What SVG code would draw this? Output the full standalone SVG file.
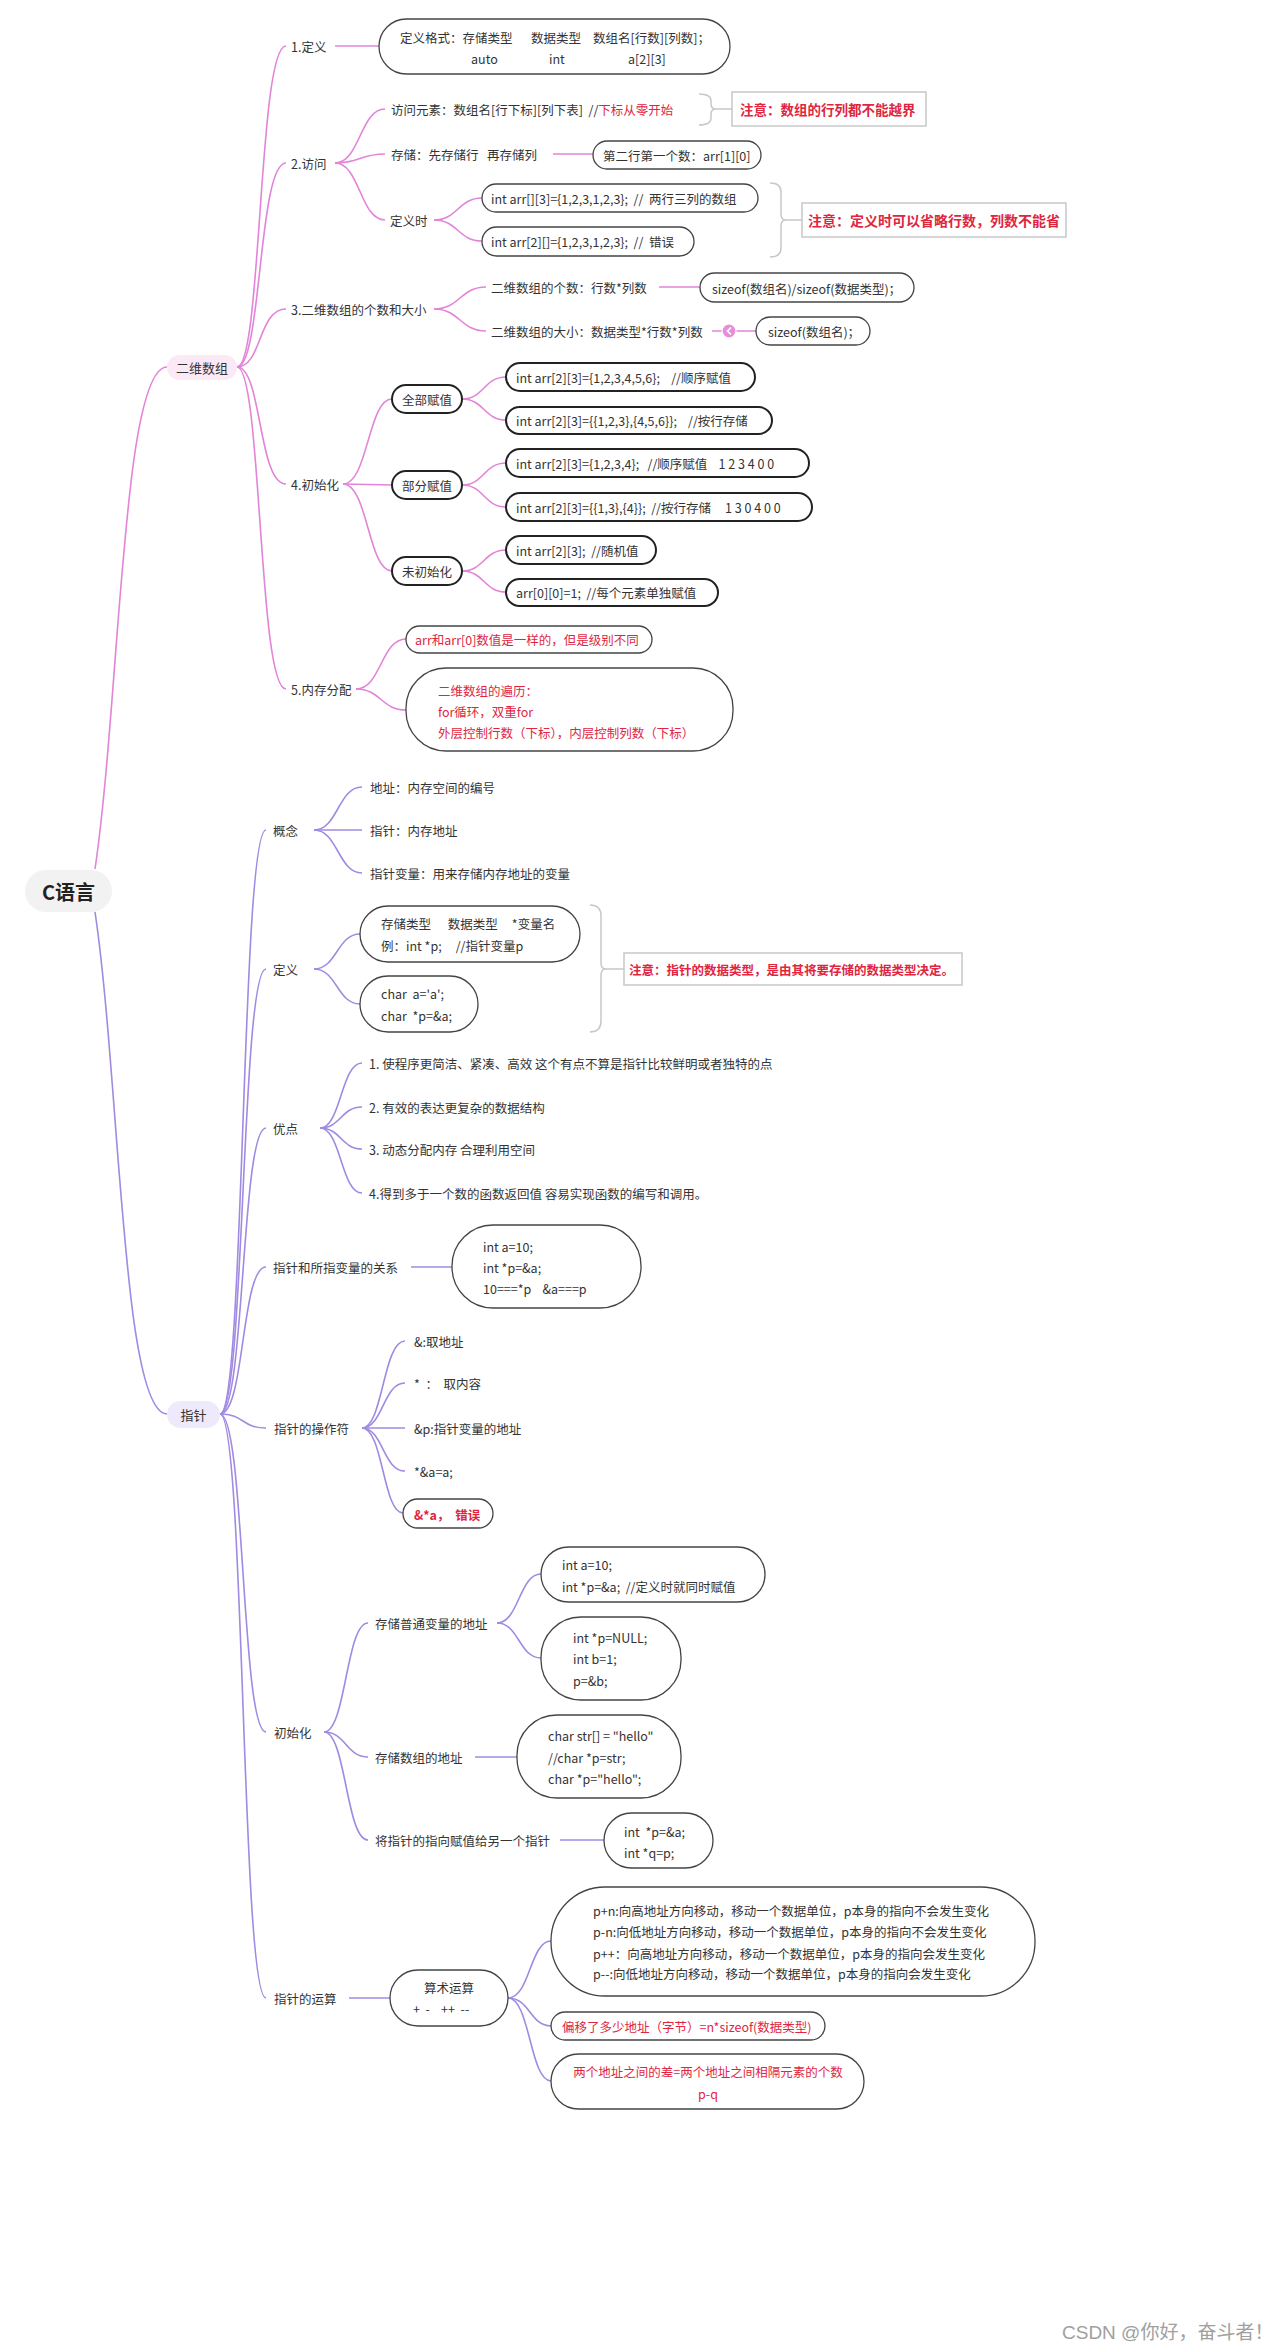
<svg xmlns="http://www.w3.org/2000/svg" width="1280" height="2351" viewBox="0 0 1280 2351" xml:space="preserve">
<style>
text{font-family:"Noto Sans CJK SC","Noto Sans",sans-serif;font-size:12.5px;fill:#333;dominant-baseline:central;white-space:pre}
.red{fill:#e0263f}
.b{font-weight:bold}
.box{fill:#fff;stroke:#444;stroke-width:1.3}
.box2{fill:#fff;stroke:#222;stroke-width:2}
.note{fill:#fff;stroke:#c8c8c8;stroke-width:1.5}
.pk{fill:none;stroke:#e284d8;stroke-width:1.6}
.pu{fill:none;stroke:#a08ae2;stroke-width:1.6}
.br{fill:none;stroke:#c8c8c8;stroke-width:1.5}
</style>
<rect width="1280" height="2351" fill="#fff"/>
<g id="connectors">
<path class="pk" d="M95 869 C120 700 122 367 167 367"/>
<path class="pk" d="M237 367 C262 367 258 46 286 46"/>
<path class="pk" d="M237 367 C262 367 258 163 286 163"/>
<path class="pk" d="M237 367 C262 367 258 309 286 309"/>
<path class="pk" d="M237 367 C262 367 258 484 286 484"/>
<path class="pk" d="M237 367 C262 367 258 689 286 689"/>
<path class="pk" d="M335 46 L379 46"/>
<path class="pk" d="M335 163 C360 163 360 109 385 109"/>
<path class="pk" d="M335 163 C360 163 360 154 385 154"/>
<path class="pk" d="M335 163 C360 163 360 220 385 220"/>
<path class="pk" d="M553 154 L593 154"/>
<path class="pk" d="M434 220 C458 220 458 198 482 198"/>
<path class="pk" d="M434 220 C458 220 458 241 482 241"/>
<path class="pk" d="M434 309 C460 309 460 287 486 287"/>
<path class="pk" d="M434 309 C460 309 460 331 486 331"/>
<path class="pk" d="M659 287 L700 287"/>
<path class="pk" d="M712 331 L756 331"/>
<path class="pk" d="M343 484 C368 484 368 399 392 399"/>
<path class="pk" d="M343 484 L392 485"/>
<path class="pk" d="M343 484 C368 484 368 571 392 571"/>
<path class="pk" d="M462 399 C484 399 484 377 506 377"/>
<path class="pk" d="M462 399 C484 399 484 420 506 420"/>
<path class="pk" d="M462 485 C484 485 484 463 506 463"/>
<path class="pk" d="M462 485 C484 485 484 507 506 507"/>
<path class="pk" d="M462 571 C484 571 484 550 506 550"/>
<path class="pk" d="M462 571 C484 571 484 592 506 592"/>
<path class="pk" d="M356 689 C381 689 381 639 406 639"/>
<path class="pk" d="M356 689 C381 689 381 710 406 710"/>
<path class="br" d="M699 94 Q711 94 711 101 L711 104 Q711 109 716 109 Q711 109 711 114 L711 118 Q711 125 699 125 M716 109 L732 109"/>
<path class="br" d="M770 183 Q781 183 781 192 L781 214 Q781 220 786 220 Q781 220 781 226 L781 248 Q781 257 770 257 M786 220 L802 220"/>
<path class="br" d="M590 905 Q601 905 601 916 L601 963 Q601 969 606 969 Q601 969 601 975 L601 1021 Q601 1032 590 1032 M606 969 L624 969"/>
<path class="pu" d="M95 912 C120 1080 122 1414 167 1414"/>
<path class="pu" d="M220 1414 C245 1414 241 830 266 830"/>
<path class="pu" d="M220 1414 C245 1414 241 969 266 969"/>
<path class="pu" d="M220 1414 C245 1414 241 1128 266 1128"/>
<path class="pu" d="M220 1414 C245 1414 241 1267 266 1267"/>
<path class="pu" d="M220 1414 C245 1414 241 1428 266 1428"/>
<path class="pu" d="M220 1414 C245 1414 241 1732 266 1732"/>
<path class="pu" d="M220 1414 C245 1414 241 1998 266 1998"/>
<path class="pu" d="M314 830 C338 830 338 787 362 787"/>
<path class="pu" d="M314 830 L362 830"/>
<path class="pu" d="M314 830 C338 830 338 873 362 873"/>
<path class="pu" d="M314 969 C337 969 337 934 360 934"/>
<path class="pu" d="M314 969 C337 969 337 1004 360 1004"/>
<path class="pu" d="M320 1128 C341 1128 341 1063 362 1063"/>
<path class="pu" d="M320 1128 C341 1128 341 1107 362 1107"/>
<path class="pu" d="M320 1128 C341 1128 341 1149 362 1149"/>
<path class="pu" d="M320 1128 C341 1128 341 1193 362 1193"/>
<path class="pu" d="M411 1267 L452 1267"/>
<path class="pu" d="M362 1428 C383 1428 383 1341 405 1341"/>
<path class="pu" d="M362 1428 C383 1428 383 1383 405 1383"/>
<path class="pu" d="M362 1428 L405 1428"/>
<path class="pu" d="M362 1428 C383 1428 383 1471 405 1471"/>
<path class="pu" d="M362 1428 C383 1428 383 1513 403 1513"/>
<path class="pu" d="M324 1732 C346 1732 346 1623 368 1623"/>
<path class="pu" d="M324 1732 C346 1732 346 1757 368 1757"/>
<path class="pu" d="M324 1732 C346 1732 346 1840 368 1840"/>
<path class="pu" d="M497 1623 C519 1623 519 1574 541 1574"/>
<path class="pu" d="M497 1623 C519 1623 519 1658 541 1658"/>
<path class="pu" d="M475 1757 L517 1757"/>
<path class="pu" d="M560 1840 L604 1840"/>
<path class="pu" d="M349 1998 L390 1998"/>
<path class="pu" d="M508 1998 C530 1998 530 1941 551 1941"/>
<path class="pu" d="M508 1998 C530 1998 530 2026 551 2026"/>
<path class="pu" d="M508 1998 C530 1998 530 2081 551 2081"/>
</g>
<g id="root"><rect x="25" y="870" width="87" height="42" rx="21" fill="#f2f2f2"/><text x="68.5" y="891" text-anchor="middle" style="font-size:20px;font-weight:bold;fill:#222">C语言</text></g>
<g id="erwei"><rect x="167" y="355" width="70" height="25" rx="12.5" fill="#fbe9f6"/><text x="202" y="367.5" text-anchor="middle" style="font-size:13px">二维数组</text></g>
<g id="n1"><text x="291" y="46">1.定义</text></g>
<g id="n1a"><rect class="box" x="379" y="19" width="351" height="55" rx="27.5"/><text x="400" y="37">定义格式：存储类型</text><text x="531" y="37">数据类型</text><text x="593" y="37">数组名[行数][列数]；</text><text x="471" y="58">auto</text><text x="549" y="58">int</text><text x="628" y="58">a[2][3]</text></g>
<g id="n2"><text x="291" y="163">2.访问</text></g>
<g id="n2a"><text x="391" y="109">访问元素：数组名[行下标][列下表]  //<tspan class="red">下标从零开始</tspan></text></g>
<g id="note1"><rect class="note" x="732" y="92" width="194" height="34"/><text x="740" y="109" class="red b" style="font-size:13.5px">注意：数组的行列都不能越界</text></g>
<g id="n2b"><text x="391" y="154">存储：先存储行   再存储列</text></g>
<g id="n2b1"><rect class="box" x="593" y="141" width="168" height="28" rx="14"/><text x="603" y="155">第二行第一个数：arr[1][0]</text></g>
<g id="n2c"><text x="390" y="220">定义时</text></g>
<g id="n2c1"><rect class="box" x="482" y="184" width="276" height="28" rx="14"/><text x="491" y="198">int arr[][3]={1,2,3,1,2,3};  //  两行三列的数组</text></g>
<g id="n2c2"><rect class="box" x="482" y="227" width="212" height="29" rx="14.5"/><text x="491" y="241">int arr[2][]={1,2,3,1,2,3};  //  错误</text></g>
<g id="note2"><rect class="note" x="802" y="203" width="264" height="34"/><text x="808" y="220" class="red b" style="font-size:14px">注意：定义时可以省略行数，列数不能省</text></g>
<g id="n3"><text x="291" y="309">3.二维数组的个数和大小</text></g>
<g id="n3a"><text x="491" y="287">二维数组的个数：行数*列数</text></g>
<g id="n3a1"><rect class="box" x="700" y="273" width="214" height="29" rx="14.5"/><text x="712" y="288">sizeof(数组名)/sizeof(数据类型)；</text></g>
<g id="n3b"><text x="491" y="331">二维数组的大小：数据类型*行数*列数</text><circle cx="729" cy="331" r="7" fill="#e58fdb" stroke="#fff" stroke-width="1.2"/><path d="M731 327.5 L727.5 331 L731 334.5" fill="none" stroke="#fff" stroke-width="1.6"/></g>
<g id="n3b1"><rect class="box" x="756" y="317" width="114" height="28" rx="14"/><text x="768" y="331">sizeof(数组名)；</text></g>
<g id="n4"><text x="291" y="484">4.初始化</text></g>
<g id="n4a"><rect class="box2" x="392" y="385" width="70" height="28" rx="14"/><text x="427" y="399" text-anchor="middle">全部赋值</text></g>
<g id="n4a1"><rect class="box2" x="506" y="363" width="249" height="28" rx="14"/><text x="516" y="377">int arr[2][3]={1,2,3,4,5,6};    //顺序赋值</text></g>
<g id="n4a2"><rect class="box2" x="506" y="407" width="266" height="27" rx="13.5"/><text x="516" y="420">int arr[2][3]={{1,2,3},{4,5,6}};    //按行存储</text></g>
<g id="n4b"><rect class="box2" x="392" y="471" width="70" height="28" rx="14"/><text x="427" y="485" text-anchor="middle">部分赋值</text></g>
<g id="n4b1"><rect class="box2" x="506" y="449" width="303" height="28" rx="14"/><text x="516" y="463">int arr[2][3]={1,2,3,4};   //顺序赋值    1 2 3 4 0 0</text></g>
<g id="n4b2"><rect class="box2" x="506" y="493" width="306" height="28" rx="14"/><text x="516" y="507">int arr[2][3]={{1,3},{4}};  //按行存储     1 3 0 4 0 0</text></g>
<g id="n4c"><rect class="box2" x="392" y="557" width="70" height="28" rx="14"/><text x="427" y="571" text-anchor="middle">未初始化</text></g>
<g id="n4c1"><rect class="box2" x="506" y="536" width="150" height="28" rx="14"/><text x="516" y="550">int arr[2][3];  //随机值</text></g>
<g id="n4c2"><rect class="box2" x="506" y="579" width="212" height="27" rx="13.5"/><text x="516" y="592">arr[0][0]=1;  //每个元素单独赋值</text></g>
<g id="n5"><text x="291" y="689">5.内存分配</text></g>
<g id="n5a"><rect class="box" x="406" y="626" width="246" height="27" rx="13.5"/><text x="415" y="639" class="red">arr和arr[0]数值是一样的，但是级别不同</text></g>
<g id="n5b"><rect class="box" x="406" y="668" width="327" height="83" rx="40"/><text x="438" y="690" class="red">二维数组的遍历：</text><text x="438" y="711" class="red">for循环，双重for</text><text x="438" y="732" class="red">外层控制行数（下标），内层控制列数（下标）</text></g>
<g id="zhizhen"><rect x="167" y="1401" width="53" height="27" rx="13.5" fill="#eee9fb"/><text x="193.5" y="1414.5" text-anchor="middle" style="font-size:13px">指针</text></g>
<g id="p1"><text x="273" y="830">概念</text></g>
<g id="p1a"><text x="370" y="787">地址：内存空间的编号</text></g>
<g id="p1b"><text x="370" y="830">指针：内存地址</text></g>
<g id="p1c"><text x="370" y="873">指针变量：用来存储内存地址的变量</text></g>
<g id="p2"><text x="273" y="969">定义</text></g>
<g id="p2a"><rect class="box" x="360" y="906" width="220" height="56" rx="28"/><text x="381" y="923">存储类型      数据类型     *变量名</text><text x="381" y="945">例：int *p;     //指针变量p</text></g>
<g id="p2b"><rect class="box" x="360" y="976" width="118" height="56" rx="28"/><text x="381" y="993">char  a='a';</text><text x="381" y="1015">char  *p=&amp;a;</text></g>
<g id="note3"><rect class="note" x="624" y="953" width="338" height="32"/><text x="629" y="969" class="red b">注意：指针的数据类型，是由其将要存储的数据类型决定。</text></g>
<g id="p3"><text x="273" y="1128">优点</text></g>
<g id="p3a"><text x="369" y="1063">1. 使程序更简洁、紧凑、高效 这个有点不算是指针比较鲜明或者独特的点</text></g>
<g id="p3b"><text x="369" y="1107">2. 有效的表达更复杂的数据结构</text></g>
<g id="p3c"><text x="369" y="1149">3. 动态分配内存 合理利用空间</text></g>
<g id="p3d"><text x="369" y="1193">4.得到多于一个数的函数返回值 容易实现函数的编写和调用。</text></g>
<g id="p4"><text x="273" y="1267">指针和所指变量的关系</text></g>
<g id="p4a"><rect class="box" x="452" y="1225" width="189" height="83" rx="41"/><text x="483" y="1246">int a=10;</text><text x="483" y="1267">int *p=&amp;a;</text><text x="483" y="1288">10===*p    &amp;a===p</text></g>
<g id="p5"><text x="274" y="1428">指针的操作符</text></g>
<g id="p5a"><text x="414" y="1341">&amp;:取地址</text></g>
<g id="p5b"><text x="414" y="1383">*  ：  取内容</text></g>
<g id="p5c"><text x="414" y="1428">&amp;p:指针变量的地址</text></g>
<g id="p5d"><text x="414" y="1471">*&amp;a=a;</text></g>
<g id="p5e"><rect class="box" x="403" y="1499" width="90" height="29" rx="14.5"/><text x="414" y="1514" class="red b">&amp;*a，  错误</text></g>
<g id="p6"><text x="274" y="1732">初始化</text></g>
<g id="p6a"><text x="375" y="1623">存储普通变量的地址</text></g>
<g id="p6a1"><rect class="box" x="541" y="1547" width="224" height="55" rx="27.5"/><text x="562" y="1564">int a=10;</text><text x="562" y="1586">int *p=&amp;a;  //定义时就同时赋值</text></g>
<g id="p6a2"><rect class="box" x="541" y="1617" width="140" height="83" rx="40"/><text x="573" y="1637">int *p=NULL;</text><text x="573" y="1658">int b=1;</text><text x="573" y="1680">p=&amp;b;</text></g>
<g id="p6b"><text x="375" y="1757">存储数组的地址</text></g>
<g id="p6b1"><rect class="box" x="517" y="1715" width="164" height="83" rx="40"/><text x="548" y="1735">char str[] = "hello"</text><text x="548" y="1757">//char *p=str;</text><text x="548" y="1778">char *p="hello";</text></g>
<g id="p6c"><text x="375" y="1840">将指针的指向赋值给另一个指针</text></g>
<g id="p6c1"><rect class="box" x="604" y="1813" width="109" height="55" rx="27.5"/><text x="624" y="1831">int  *p=&amp;a;</text><text x="624" y="1852">int *q=p;</text></g>
<g id="p7"><text x="274" y="1998">指针的运算</text></g>
<g id="p7a"><rect class="box" x="390" y="1970" width="118" height="56" rx="28"/><text x="449" y="1987" text-anchor="middle">算术运算</text><text x="413" y="2008">+  -    ++  --</text></g>
<g id="p7a1"><rect class="box" x="551" y="1887" width="484" height="109" rx="54"/><text x="593" y="1910">p+n:向高地址方向移动，移动一个数据单位，p本身的指向不会发生变化</text><text x="593" y="1931">p-n:向低地址方向移动，移动一个数据单位，p本身的指向不会发生变化</text><text x="593" y="1953">p++：向高地址方向移动，移动一个数据单位，p本身的指向会发生变化</text><text x="593" y="1973">p--:向低地址方向移动，移动一个数据单位，p本身的指向会发生变化</text></g>
<g id="p7a2"><rect class="box" x="551" y="2012" width="274" height="28" rx="14"/><text x="562" y="2026" class="red">偏移了多少地址（字节）=n*sizeof(数据类型)</text></g>
<g id="p7a3"><rect class="box" x="551" y="2054" width="313" height="55" rx="27.5"/><text x="708" y="2071" class="red" text-anchor="middle">两个地址之间的差=两个地址之间相隔元素的个数</text><text x="708" y="2093" class="red" text-anchor="middle">p-q</text></g>
<g id="watermark"><text x="1062" y="2332" style="font-family:'Liberation Sans','Noto Sans CJK SC',sans-serif;font-size:19px;fill:#a0a0a0">CSDN @你好，奋斗者！</text></g>
</svg>
